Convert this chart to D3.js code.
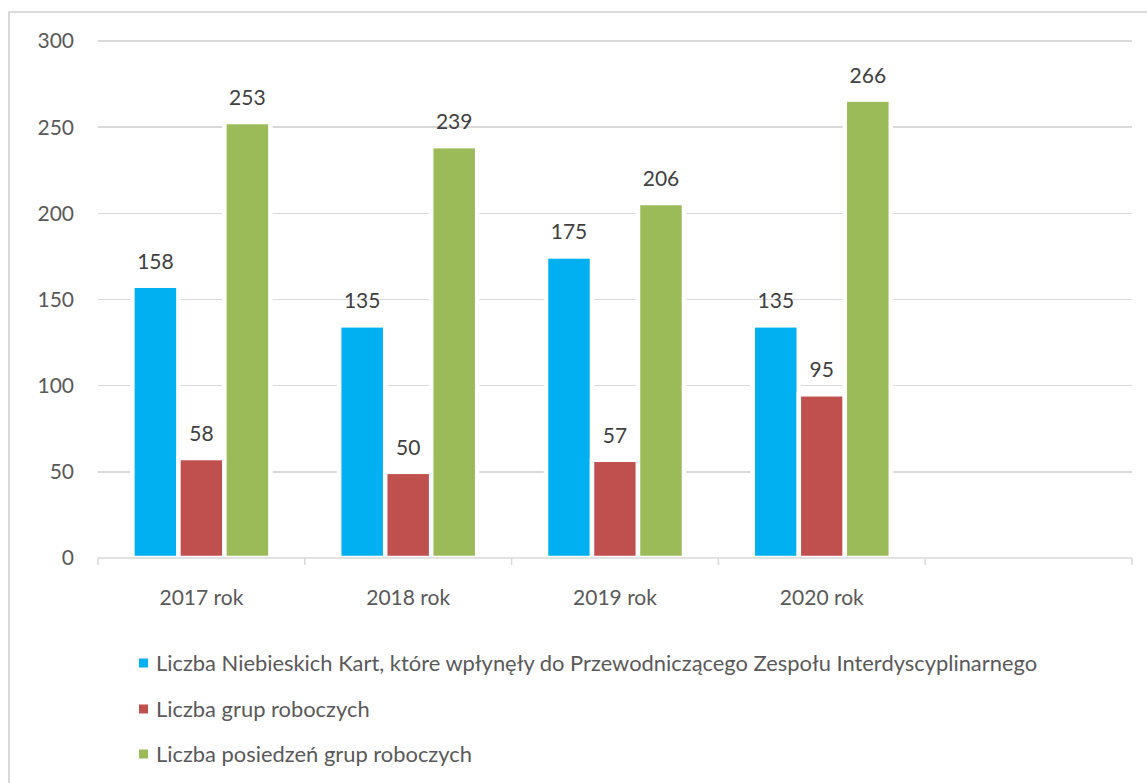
<!DOCTYPE html>
<html>
<head>
<meta charset="utf-8">
<title>Niebieskie Karty</title>
<style>
body { margin: 0; background: #fff; }
text { font-family: Lato, "Open Sans", sans-serif; }
.grid line { stroke: #d9d9d9; stroke-width: 1.5; shape-rendering: crispEdges; }
.yaxis text, .xaxis text { fill: #595959; font-size: 21px; }
.lbl { fill: #404040; font-size: 21px; }
.legend text { fill: #595959; font-size: 21.9px; }
</style>
</head>
<body>
<div id="chart"></div>
<script src="https://cdn.jsdelivr.net/npm/d3@7"></script>
<script>
var categories = ["2017 rok", "2018 rok", "2019 rok", "2020 rok", ""];
var seriesNames = [
    "Liczba Niebieskich Kart, które wpłynęły do Przewodniczącego Zespołu Interdyscyplinarnego",
    "Liczba grup roboczych",
    "Liczba posiedzeń grup roboczych"
];
var blueCards = [158, 135, 175, 135];
var workGroups = [58, 50, 57, 95];
var meetings = [253, 239, 206, 266];
var yTicks = [0, 50, 100, 150, 200, 250, 300];
var colors = ["#00b0f0", "#c0504d", "#9bbb59"];

var width = 1147, height = 783;
var plot = { left: 98, right: 1132, top: 41, bottom: 558 };

var svg = d3.select("#chart").append("svg")
    .attr("width", width)
    .attr("height", height);

// chart border (right/bottom edges fall outside the picture)
svg.append("rect")
    .attr("x", 9).attr("y", 12)
    .attr("width", width).attr("height", height)
    .attr("fill", "#fff")
    .attr("stroke", "#d9d9d9")
    .attr("stroke-width", 2);

var x = d3.scaleBand()
    .domain(categories)
    .range([plot.left, plot.right]);
var x1 = d3.scaleBand()
    .domain([0, 1, 2])
    .range([0, x.bandwidth()])
    .paddingOuter(0.748);
var y = d3.scaleLinear()
    .domain([0, 300])
    .range([plot.bottom, plot.top]);

// gridlines
svg.append("g").attr("class", "grid")
    .selectAll("line")
    .data(yTicks.filter(function(d) { return d > 0; }))
    .enter().append("line")
    .attr("x1", plot.left).attr("x2", plot.right)
    .attr("y1", function(d) { return y(d); })
    .attr("y2", function(d) { return y(d); });

// y labels
svg.append("g").attr("class", "yaxis")
    .selectAll("text")
    .data(yTicks)
    .enter().append("text")
    .attr("x", 74)
    .attr("y", function(d) { return y(d); })
    .attr("dy", "0.35em")
    .attr("text-anchor", "end")
    .text(function(d) { return d; });

// bars
var series = [blueCards, workGroups, meetings];
var bars = [];
series.forEach(function(vals, s) {
    vals.forEach(function(v, i) {
        bars.push({ s: s, cat: categories[i], v: v });
    });
});

svg.append("g").attr("class", "bars")
    .selectAll("rect")
    .data(bars)
    .enter().append("rect")
    .attr("x", function(d) { return x(d.cat) + x1(d.s); })
    .attr("y", function(d) { return y(d.v); })
    .attr("width", x1.bandwidth())
    .attr("height", function(d) { return y(0) - y(d.v); })
    .attr("fill", function(d) { return colors[d.s]; })
    .attr("stroke", "#fff")
    .attr("stroke-width", 4.5);

svg.append("g")
    .selectAll("text")
    .data(bars)
    .enter().append("text")
    .attr("class", "lbl")
    .attr("x", function(d) { return x(d.cat) + x1(d.s) + x1.bandwidth() / 2; })
    .attr("y", function(d) { return y(d.v) - 17; })
    .attr("text-anchor", "middle")
    .text(function(d) { return d.v; });

// x axis
var xaxis = svg.append("g").attr("class", "xaxis");
xaxis.append("line")
    .attr("x1", plot.left).attr("x2", plot.right)
    .attr("y1", plot.bottom).attr("y2", plot.bottom)
    .attr("stroke", "#d9d9d9").attr("stroke-width", 1.5);
var edges = categories.map(function(c) { return x(c); }).concat([plot.right]);
xaxis.selectAll("line.tick")
    .data(edges)
    .enter().append("line")
    .attr("class", "tick")
    .attr("x1", function(d) { return d; }).attr("x2", function(d) { return d; })
    .attr("y1", plot.bottom).attr("y2", plot.bottom + 7)
    .attr("stroke", "#d9d9d9").attr("stroke-width", 1.5);
xaxis.selectAll("text")
    .data(categories)
    .enter().append("text")
    .attr("x", function(d) { return x(d) + x.bandwidth() / 2; })
    .attr("y", 605)
    .attr("text-anchor", "middle")
    .text(function(d) { return d; });

// legend
var legendY = [663, 709, 754];
var legend = svg.append("g").attr("class", "legend")
    .selectAll("g")
    .data(seriesNames)
    .enter().append("g")
    .attr("transform", function(d, i) { return "translate(139," + legendY[i] + ")"; });
legend.append("rect")
    .attr("x", 0).attr("y", -4.5)
    .attr("width", 9).attr("height", 9)
    .attr("fill", function(d, i) { return colors[i]; });
legend.append("text")
    .attr("x", 17)
    .attr("dy", "0.35em")
    .text(function(d) { return d; });
</script>
</body>
</html>
